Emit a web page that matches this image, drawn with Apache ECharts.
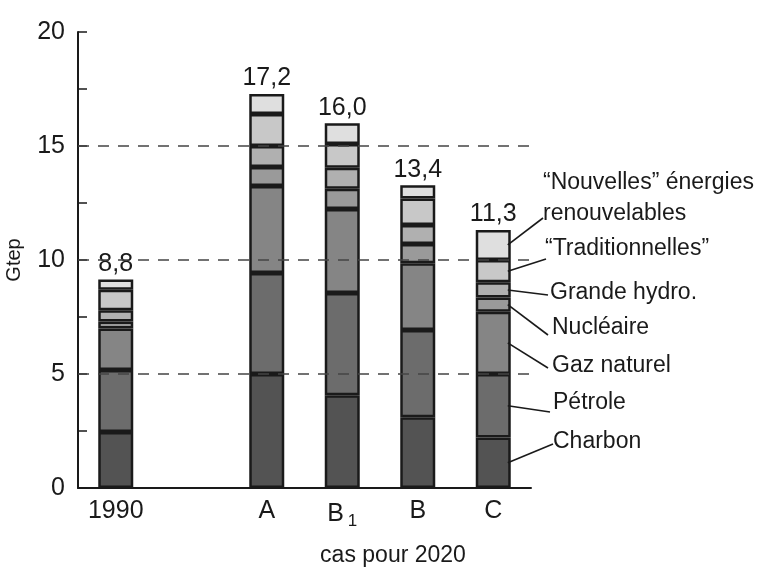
<!DOCTYPE html>
<html><head><meta charset="utf-8">
<script src="https://cdn.jsdelivr.net/npm/echarts@6/dist/echarts.min.js"></script>
<style>html,body{margin:0;padding:0;background:#fff}#c{width:766px;height:570px}</style>
</head><body><div id="c"></div>
<script>
// ---- data ----
const categories = ['1990', '', 'A', 'B1', 'B', 'C'];
const charbon         = [2.46, null, 5.00, 4.07, 3.10, 2.22];
const petrole         = [2.72, null, 4.43, 4.48, 3.83, 2.78];
const gaz             = [1.82, null, 3.82, 3.69, 2.93, 2.73];
const nucleaire       = [0.30, null, 0.83, 0.89, 0.84, 0.62];
const hydro           = [0.50, null, 0.92, 0.92, 0.84, 0.67];
const traditionnelles = [0.90, null, 1.40, 1.04, 1.16, 0.98];
const nouvelles       = [0.45, null, 0.88, 0.91, 0.58, 1.32];
const totalLabels = ['8,8', '', '17,2', '16,0', '13,4', '11,3'];
const seriesNames = ['Charbon', 'Pétrole', 'Gaz naturel', 'Nucléaire', 'Grande hydro.', '“Traditionnelles”', '“Nouvelles” énergies\nrenouvelables'];
const gridLevels = [5, 10, 15];
const yAxisName = 'Gtep';
const xAxisName = 'cas pour 2020';

// ---- style ----
const FONT = '"Liberation Sans", Arial, Helvetica, sans-serif';
const INK = '#1a1a1a';
const colors = ['#535353', '#6c6c6c', '#858585', '#9a9a9a', '#b0b0b0', '#c8c8c8', '#dfdfdf'];
const seriesData = [charbon, petrole, gaz, nucleaire, hydro, traditionnelles, nouvelles];
// annotation layout (pixel positions of label text & leader line ends)
const annot = [
  {tx: 553, ty: 442, lx: 553, ly: 444},
  {tx: 553, ty: 403, lx: 550, ly: 412},
  {tx: 552, ty: 366, lx: 548, ly: 368},
  {tx: 552, ty: 328, lx: 548, ly: 335},
  {tx: 550, ty: 293, lx: 548, ly: 295},
  {tx: 545, ty: 249, lx: 546, ly: 259},
  {tx: 543, ty: 198, lx: 543, ly: 218}
];

const chart = echarts.init(document.getElementById('c'), null, {renderer: 'canvas'});
const BAR_W = 35;

const series = seriesData.map((d, i) => ({
  name: seriesNames[i],
  type: 'bar',
  stack: 'total',
  data: d,
  barWidth: BAR_W,
  itemStyle: {color: colors[i], borderColor: INK, borderWidth: 2.5},
  label: i === seriesData.length - 1 ? {
    show: true, position: 'top', distance: 3,
    formatter: p => totalLabels[p.dataIndex],
    fontFamily: FONT, fontSize: 25, color: INK
  } : {show: false},
  emphasis: {disabled: true},
  animation: false
}));

series.push({
  type: 'line', data: [], z: 10, animation: false,
  markLine: {
    silent: true, symbol: 'none', animation: false,
    label: {show: false},
    lineStyle: {color: '#444', width: 1.6, type: [11, 9]},
    data: gridLevels.map(v => ({yAxis: v}))
  }
});

chart.setOption({
  backgroundColor: '#fff',
  animation: false,
  grid: {left: 78, right: 235, top: 32, bottom: 82, containLabel: false, outerBoundsMode: 'none'},
  xAxis: {
    type: 'category', data: categories,
    axisLine: {lineStyle: {color: INK, width: 2}},
    axisTick: {inside: true, length: 7, lineStyle: {color: INK, width: 1.5}},
    axisLabel: {
      interval: 0, hideOverlap: false,
      margin: 11, color: INK, fontFamily: FONT, fontSize: 25,
      formatter: v => v === 'B1' ? '{b|B}{s|1}' : v,
      rich: {b: {fontFamily: FONT, fontSize: 25, color: INK}, s: {fontFamily: FONT, fontSize: 17, color: INK, padding: [14, 0, 0, 4]}}
    },
    name: xAxisName, nameLocation: 'middle', nameGap: 56,
    nameTextStyle: {fontFamily: FONT, fontSize: 23, color: INK, padding: [0, 0, 0, 177]}
  },
  yAxis: {
    type: 'value', min: 0, max: 20, interval: 2.5,
    axisLine: {show: true, lineStyle: {color: INK, width: 2}},
    axisTick: {show: true, inside: true, length: 9, lineStyle: {color: INK, width: 1.5}},
    splitLine: {show: false},
    axisLabel: {
      margin: 13, color: INK, fontFamily: FONT, fontSize: 25,
      formatter: v => (v % 5 === 0 ? String(v) : '')
    },
    name: yAxisName, nameLocation: 'middle', nameGap: 54, nameRotate: 90,
    nameTextStyle: {fontFamily: FONT, fontSize: 20, color: INK}
  },
  series: series
});

// annotations on bar C, leader lines start from the middle of each segment
const ci = categories.length - 1;
let cum = 0;
const graphics = [];
seriesData.forEach((d, i) => {
  const v = d[ci];
  const mid = cum + v / 2;
  cum += v;
  const p = chart.convertToPixel({gridIndex: 0}, [ci, mid]);
  const a = annot[i];
  graphics.push({
    type: 'line', silent: true, z: 20,
    shape: {x1: p[0] + BAR_W / 2 - 3, y1: p[1], x2: a.lx, y2: a.ly},
    style: {stroke: INK, lineWidth: 1.6}
  });
  graphics.push({
    type: 'text', silent: true, z: 20, x: a.tx, y: a.ty,
    style: {text: seriesNames[i], fill: INK, font: '23px ' + FONT, textAlign: 'left', textVerticalAlign: 'middle', lineHeight: 31}
  });
});
chart.setOption({graphic: graphics});
</script>
</body></html>
